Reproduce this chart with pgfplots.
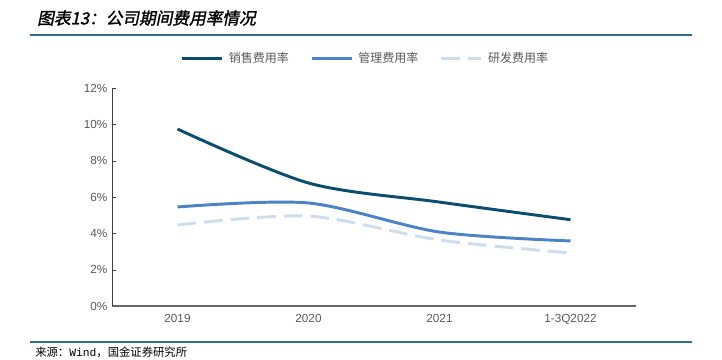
\documentclass[border=0pt]{standalone}
\usepackage{pgfplots}
\pgfplotsset{compat=1.18}
\usepackage{fontspec}
\setmainfont{Liberation Sans}
\setmonofont{Liberation Mono}
\newfontfamily\cjk{Noto Sans CJK SC}
\newfontfamily\cjktitle[FakeSlant=0.2,FakeBold=1.5]{Noto Sans CJK SC}
\definecolor{sales}{HTML}{0B4D6E}
\definecolor{mgmt}{HTML}{4A84C4}
\definecolor{rnd}{HTML}{CCDDEF}
\definecolor{rule}{HTML}{2E6E8E}
\definecolor{txt}{HTML}{595959}
\begin{document}
\begin{tikzpicture}[x=0.75pt,y=0.75pt]
\path[use as bounding box] (0,0) rectangle (722,360);
\node[anchor=west,inner sep=0pt] at (37,342) {\cjktitle\fontsize{12.5}{14}\selectfont 图表13：公司期间费用率情况};
\draw[rule,line width=1.2pt] (30,325) -- (692,325);
\draw[rule,line width=1.2pt] (30,18) -- (692,18);
\node[anchor=west,inner sep=0pt] at (35,8) {\cjk\fontsize{8.5}{10}\selectfont 来源：{\ttfamily Wind}，国金证券研究所};
\begin{axis}[
  at={(84pt,40.5pt)}, anchor=south west,
  scale only axis, width=393pt, height=163.5pt,
  xmin=-0.5, xmax=3.5, ymin=0, ymax=12,
  xtick={0,1,2,3},
  xticklabels={2019,2020,2021,1-3Q2022},
  extra x ticks={0.5,1.5,2.5,3.5},
  extra x tick labels={},
  extra x tick style={major tick length=4pt, tick style={draw=black!75}},
  x tick style={draw=none},
  ytick={0,2,4,6,8,10,12},
  yticklabel={\pgfmathprintnumber{\tick}\%},
  /pgf/number format/assume math mode=true,
  ticklabel style={font=\fontsize{8.8}{10}\selectfont, text=txt},
  xticklabel style={yshift=-3pt},
  tick align=inside,
  major tick length=3pt,
  y tick style={draw=black!75},
  axis x line*=bottom, axis y line*=left,
  x axis line style={draw=black!60, line width=1.2pt, -},
  y axis line style={draw=black!75, line width=0.6pt, -},
  legend style={at={(0.484,1.135)}, anchor=center, draw=none, fill=none,
    legend columns=3, font=\cjk\fontsize{9}{11}\selectfont, text=txt,
    /tikz/every odd column/.append style={column sep=2pt},
    /tikz/every even column/.append style={column sep=14pt}},
  legend image code/.code={\draw[#1] (0pt,0pt) -- (30pt,0pt);},
]
\addplot[sales, line width=2.2pt, smooth] coordinates {(0,9.74) (1,6.77) (2,5.72) (3,4.75)};
\addlegendentry{销售费用率}
\addplot[mgmt, line width=2.2pt, smooth] coordinates {(0,5.45) (1,5.67) (2,4.07) (3,3.58)};
\addlegendentry{管理费用率}
\addplot[rnd, line width=2.2pt, smooth, dash pattern=on 14pt off 6pt] coordinates {(0,4.46) (1,4.95) (2,3.63) (3,2.92)};
\addlegendentry{研发费用率}
\end{axis}
\end{tikzpicture}
\end{document}
